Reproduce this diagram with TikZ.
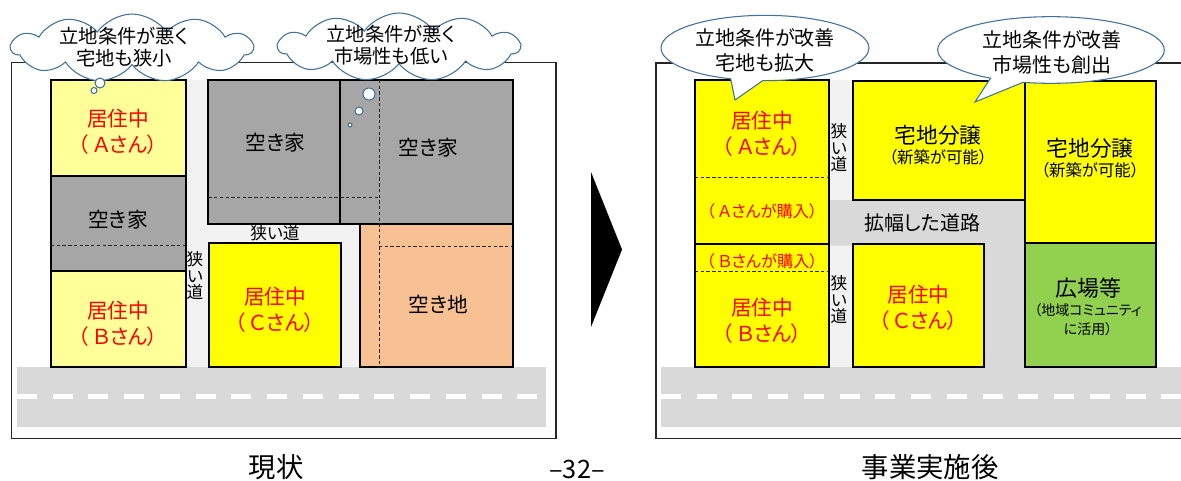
\documentclass[tikz,border=0pt]{standalone}
\usepackage{fontspec}
\setmainfont{Noto Sans CJK JP}[RawFeature=+palt]
\usetikzlibrary{shapes.symbols,shapes.callouts}

\definecolor{paleyellow}{HTML}{FFFF99}
\definecolor{lotyellow}{HTML}{FFFF00}
\definecolor{housegray}{HTML}{A6A6A6}
\definecolor{lotorange}{HTML}{F8C193}
\definecolor{parkgreen}{HTML}{92D050}
\definecolor{roadgray}{HTML}{D9D9D9}
\definecolor{lanegray}{HTML}{F2F2F2}
\definecolor{bubbleblue}{HTML}{41719C}

\tikzset{every picture/.style={line width=0.75pt}}
\tikzset{
  panel/.style={draw=black!85, line width=0.9pt},
  lotline/.style={draw=black, line width=1.6pt},
  guide/.style={draw=black!85, line width=0.6pt, dash pattern={on 2.5pt off 1.8pt}},
  lane/.style={draw=white, line width=3.4pt, dash pattern={on 15pt off 11.8pt}},
  bubble/.style={draw=bubbleblue, fill=white, line width=0.8pt},
  resident/.style={text=red, align=center, inner sep=0.75pt, font=\fontsize{15.5}{19.5}\selectfont},
  buyer/.style={text=red, inner sep=0.75pt, font=\fontsize{12.2}{14}\selectfont},
  label/.style={align=center, inner sep=0.75pt, font=\fontsize{15.5}{19}\selectfont},
  small/.style={align=center, inner sep=0.75pt, font=\fontsize{12.3}{14}\selectfont},
  lane text/.style={align=center, inner sep=0.75pt, font=\fontsize{12.5}{12.4}\selectfont},
  thought/.style={align=center, inner sep=0.75pt, font=\fontsize{14.5}{16.2}\selectfont},
  caption/.style={inner sep=0.75pt, font=\fontsize{20.5}{24}\selectfont}
}

\begin{document}
\begin{tikzpicture}[x=0.75pt,y=0.75pt,yscale=-1,xscale=1]
\useasboundingbox (0,0) rectangle (1181,481);

%%%%%% left panel : 現状
%Shape: Rectangle [frame]
\draw [panel]  (11.5,62.5) -- (556,62.5) -- (556,438.5) -- (11.5,438.5) -- cycle ;
%Shape: Rectangle [back lanes]
\fill [lanegray]  (186,80) -- (513,80) -- (513,367) -- (186,367) -- cycle ;
%Shape: Rectangle [road]
\fill [roadgray]  (17,367) -- (546,367) -- (546,427) -- (17,427) -- cycle ;
%Straight Lines [road marking]
\draw [lane]  (17,396.5) -- (546,396.5) ;

%Shape: Rectangle [house A]
\draw [lotline, fill=paleyellow]  (51,80) -- (186,80) -- (186,176) -- (51,176) -- cycle ;
%Shape: Rectangle [vacant house]
\draw [lotline, fill=housegray]  (51,176) -- (186,176) -- (186,270.7) -- (51,270.7) -- cycle ;
%Shape: Rectangle [house B]
\draw [lotline, fill=paleyellow]  (51,270.7) -- (186,270.7) -- (186,367) -- (51,367) -- cycle ;
%Shape: Rectangle [vacant house]
\draw [lotline, fill=housegray]  (208.3,80) -- (340.3,80) -- (340.3,224) -- (208.3,224) -- cycle ;
%Shape: Rectangle [vacant house]
\draw [lotline, fill=housegray]  (340.3,80) -- (513.3,80) -- (513.3,224) -- (340.3,224) -- cycle ;
%Shape: Rectangle [vacant lot]
\draw [lotline, fill=lotorange]  (360,224) -- (513.3,224) -- (513.3,367) -- (360,367) -- cycle ;
%Shape: Rectangle [house C]
\draw [lotline, fill=lotyellow]  (209.3,243.3) -- (341,243.3) -- (341,367) -- (209.3,367) -- cycle ;

%Straight Lines [plot lines]
\draw [guide]  (51,245) -- (186,245) ;
\draw [guide]  (208.3,197) -- (379,197) ;
\draw [guide]  (379,80) -- (379,367) ;
\draw [guide]  (379,246.7) -- (513.3,246.7) ;

% Text Node
\node (resA) [resident] at (118,131.5) {居住中\\（ Ａさん）};
% Text Node
\node (vacant1) [label] at (118,220) {空き家};
% Text Node
\node (resB) [resident] at (118,323.5) {居住中\\（ Ｂさん）};
% Text Node
\node (vacant2) [label] at (275,143) {空き家};
% Text Node
\node (vacant3) [label] at (428,148) {空き家};
% Text Node
\node (resC) [resident] at (275,309.5) {居住中\\（ Ｃさん）};
% Text Node
\node (emptylot) [label] at (438,304) {空き地};
% Text Node
\node (laneH) [lane text] at (275,233) {狭い道};
% Text Node
\node (laneV) [lane text] at (195,276) {狭\\い\\道};

%Shape: Cloud [left]
\node (cloudA) [cloud, bubble, cloud puffs=11, cloud puff arc=110, cloud ignores aspect,
  minimum width=181pt, minimum height=51pt, inner sep=0pt] at (132,48) {};
\draw [bubble]  (100,83) circle (5) ;
\draw [bubble]  (94,90.5) circle (3) ;
% Text Node
\node (thinkA) [thought] at (124,47) {立地条件が悪く\\宅地も狭小};

%Shape: Cloud [right]
\node (cloudB) [cloud, bubble, cloud puffs=11, cloud puff arc=110, cloud ignores aspect,
  minimum width=181pt, minimum height=51pt, inner sep=0pt] at (399,47) {};
\draw [bubble]  (369,94) circle (6) ;
\draw [bubble]  (359,111) circle (4) ;
\draw [bubble]  (350,125) circle (2) ;
% Text Node
\node (thinkB) [thought] at (391,45) {立地条件が悪く\\市場性も低い};

% Text Node
\node (nowcap) [caption] at (276,467) {現状};

%%%%%% arrow
%Shape: Triangle
\fill [black]  (591,172) -- (622,249.5) -- (591,327) -- cycle ;
% Text Node
\node (pageno) [inner sep=0.75pt, font=\fontsize{19}{22}\selectfont] at (577,469) {–32–};

%%%%%% right panel : 事業実施後
%Straight Lines [frame]
\draw [panel]  (1190,63) -- (656,63) -- (656,438.5) -- (1190,438.5) ;
%Shape: Rectangle [narrow lane]
\fill [lanegray]  (829,80) -- (853,80) -- (853,367) -- (829,367) -- cycle ;
%Shape: Polygon [widened road]
\fill [roadgray]  (829,200) -- (1025,200) -- (1025,367) -- (984,367) -- (984,245.5) -- (829,245.5) -- cycle ;
%Shape: Rectangle [road]
\fill [roadgray]  (661,367) -- (1190,367) -- (1190,427) -- (661,427) -- cycle ;
%Straight Lines [road marking]
\draw [lane]  (661,396.5) -- (1190,396.5) ;

%Shape: Rectangle [house A]
\draw [lotline, fill=lotyellow]  (695,80) -- (829,80) -- (829,244.3) -- (695,244.3) -- cycle ;
%Shape: Rectangle [house B]
\draw [lotline, fill=lotyellow]  (695,244.3) -- (829,244.3) -- (829,367) -- (695,367) -- cycle ;
%Shape: Rectangle [new lot]
\draw [lotline, fill=lotyellow]  (853,81) -- (1025,81) -- (1025,200) -- (853,200) -- cycle ;
%Shape: Rectangle [new lot]
\draw [lotline, fill=lotyellow]  (1025,81) -- (1155.7,81) -- (1155.7,243.3) -- (1025,243.3) -- cycle ;
%Shape: Rectangle [open space]
\draw [lotline, fill=parkgreen]  (1025,243.3) -- (1155.7,243.3) -- (1155.7,367.3) -- (1025,367.3) -- cycle ;
%Shape: Rectangle [house C]
\draw [lotline, fill=lotyellow]  (853,244.3) -- (984,244.3) -- (984,367) -- (853,367) -- cycle ;

%Straight Lines [plot lines]
\draw [guide]  (695,177.3) -- (829,177.3) ;
\draw [guide]  (695,271.7) -- (829,271.7) ;

% Text Node
\node (newresA) [resident] at (762,134) {居住中\\（ Ａさん）};
% Text Node
\node (buyA) [buyer] at (762,211.7) {（ Ａさんが購入）};
% Text Node
\node (buyB) [buyer] at (762,261) {（ Ｂさんが購入）};
% Text Node
\node (newresB) [resident] at (762,320.5) {居住中\\（ Ｂさん）};
% Text Node
\node (newresC) [resident] at (918.5,307.5) {居住中\\（ Ｃさん）};
% Text Node
\node (laneV1) [lane text] at (839,148) {狭\\い\\道};
% Text Node
\node (laneV2) [lane text] at (839,300) {狭\\い\\道};
% Text Node
\node (wideroad) [label, font=\fontsize{15}{18}\selectfont] at (922,223) {拡幅した道路};
% Text Node
\node (sale1) [label, font=\fontsize{16.3}{19}\selectfont] at (938,135) {宅地分譲};
\node (sale1sub) [small] at (938,157) {（新築が可能）};
% Text Node
\node (sale2) [label, font=\fontsize{16.3}{19}\selectfont] at (1090,148) {宅地分譲};
\node (sale2sub) [small] at (1090,170) {（新築が可能）};
% Text Node
\node (park) [label, font=\fontsize{16.5}{19}\selectfont] at (1088,288) {広場等};
\node (parksub) [align=center, inner sep=0.75pt, font=\fontsize{10.5}{14.2}\selectfont] at (1088,319.5) {（地域コミュニティ\\に活用）};

%Shape: Callout [left]
\node (callA) [ellipse callout, bubble, minimum width=156pt, minimum height=49pt, inner sep=0pt,
  callout absolute pointer={(735,100)}, callout pointer arc=18] at (765,48) {};
% Text Node
\node (sayA) [thought, font=\fontsize{15}{18.7}\selectfont] at (765,50.5) {立地条件が改善\\宅地も拡大};
%Shape: Callout [right]
\node (callB) [ellipse callout, bubble, minimum width=170pt, minimum height=50pt, inner sep=0pt,
  callout absolute pointer={(975,102)}, callout pointer arc=18] at (1051,50) {};
% Text Node
\node (sayB) [thought, font=\fontsize{15}{18.7}\selectfont] at (1052,52.5) {立地条件が改善\\市場性も創出};

% Text Node
\node (aftercap) [caption] at (930,467) {事業実施後};

\end{tikzpicture}
\end{document}
